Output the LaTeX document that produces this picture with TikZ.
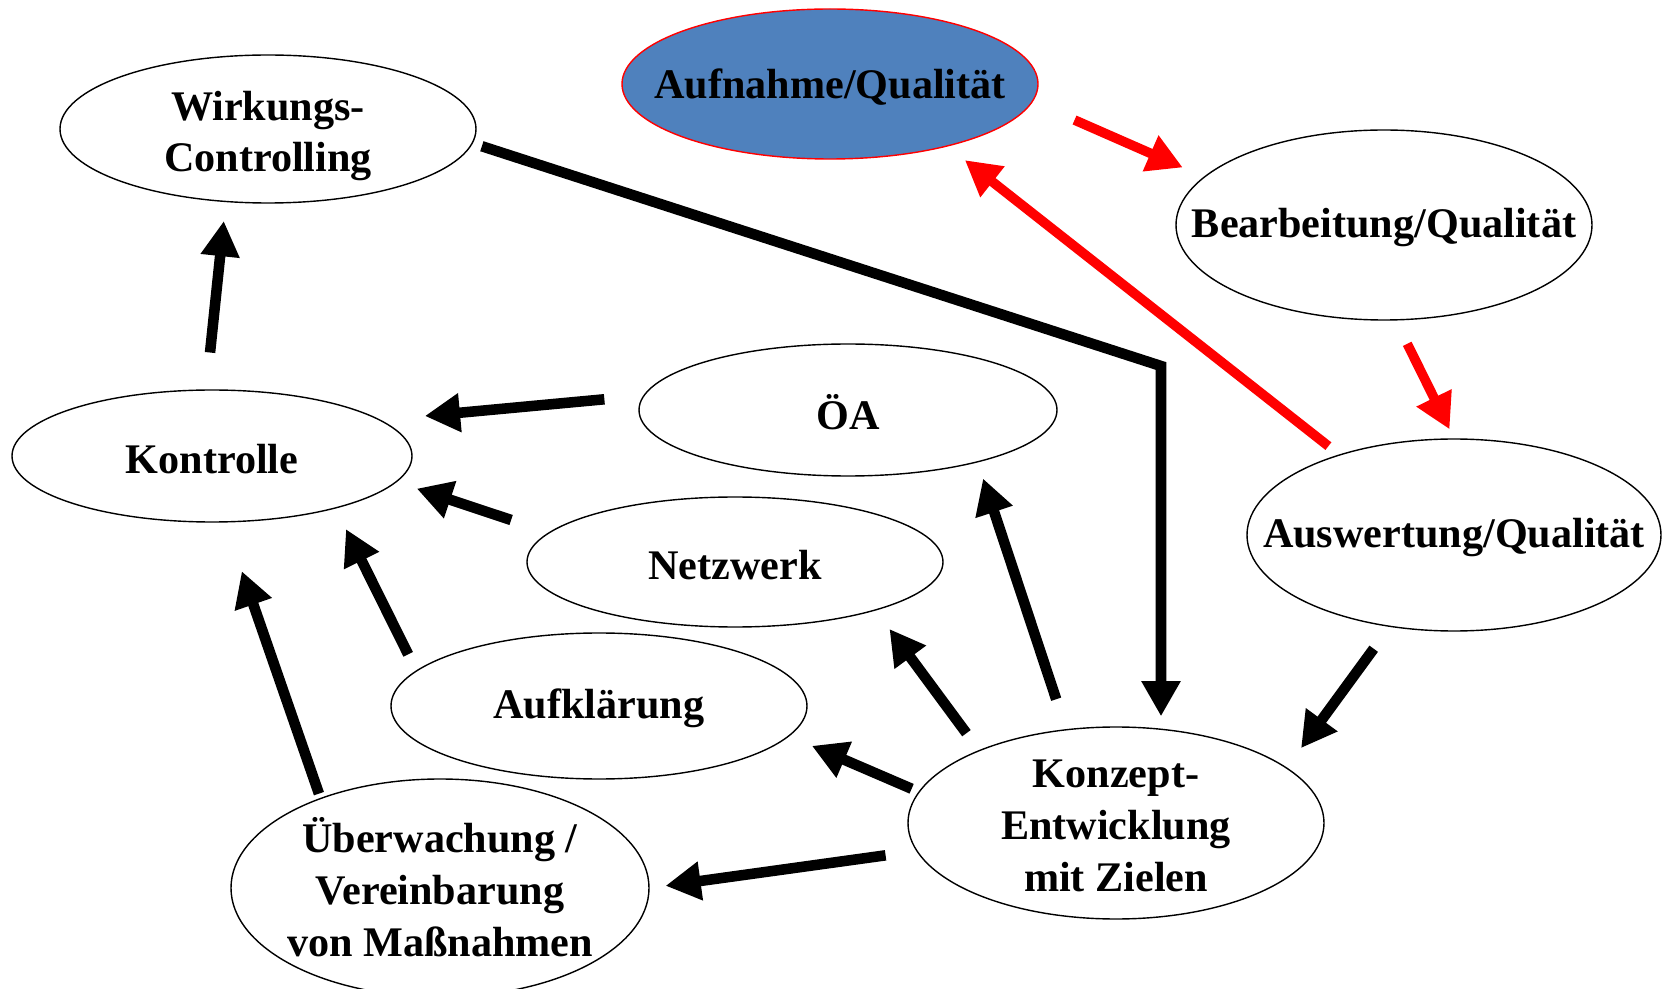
\documentclass[tikz,border=0pt]{standalone}
\usepackage{fontspec}
\setmainfont{Liberation Serif}
\usetikzlibrary{shapes.geometric,arrows.meta,calc}
\definecolor{officeblue}{RGB}{79,129,189}
\definecolor{signalred}{RGB}{255,0,0}
\tikzset{
    % ellipse nodes, the text sits in a centred label
    ovalbox/.style={
        ellipse, draw=black, line width=0.8pt, fill=white,
        inner sep=0pt
    },
    labeltext/.style={
        font=\bfseries\fontsize{24}{29.5}\selectfont, align=center,
        yshift=-1.5pt
    },
    arrow/.style={
        -{Triangle[length=20pt,width=21pt]}, line width=6pt, color=black
    },
    redarrow/.style={
        -{Triangle[length=20pt,width=21pt]}, line width=5.5pt, color=signalred
    }
}

\begin{document}
\begin{tikzpicture}

\useasboundingbox (0,0) rectangle (33.24,19.76);

% Quality cycle (top right)
\node[ovalbox, fill=officeblue, draw=signalred, minimum width=8.32cm, minimum height=3cm,
    label={[labeltext]center:Aufnahme/Qualität}] (aufnahme) at (16.60,18.08) {};
\node[ovalbox, minimum width=8.32cm, minimum height=3.8cm,
    label={[labeltext]center:Bearbeitung/Qualität}] (bearbeitung) at (27.68,15.26) {};
\node[ovalbox, minimum width=8.28cm, minimum height=3.84cm,
    label={[labeltext]center:Auswertung/Qualität}] (auswertung) at (29.08,9.06) {};

% Concept and measures
\node[ovalbox, minimum width=8.32cm, minimum height=3.84cm,
    label={[labeltext]center:{Konzept-\\Entwicklung\\mit Zielen}}] (konzept) at (22.32,3.30) {};
\node[ovalbox, minimum width=8.36cm, minimum height=2.64cm,
    label={[labeltext]center:ÖA}] (oea) at (16.96,11.56) {};
\node[ovalbox, minimum width=8.32cm, minimum height=2.6cm,
    label={[labeltext]center:Netzwerk}] (netzwerk) at (14.70,8.52) {};
\node[ovalbox, minimum width=8.32cm, minimum height=2.92cm,
    label={[labeltext]center:Aufklärung}] (aufklaerung) at (11.98,5.64) {};
\node[ovalbox, minimum width=8.36cm, minimum height=4.36cm,
    label={[labeltext, yshift=2pt]center:{Überwachung /\\Vereinbarung\\von Maßnahmen}}] (ueberwachung) at (8.80,2.00) {};

% Control (left)
\node[ovalbox, minimum width=8cm, minimum height=2.64cm,
    label={[labeltext]center:Kontrolle}] (kontrolle) at (4.24,10.64) {};
\node[ovalbox, minimum width=8.32cm, minimum height=2.96cm,
    label={[labeltext, yshift=-2.5pt]center:{Wirkungs-\\Controlling}}] (wirkung) at (5.36,17.18) {};

\coordinate (knick) at (23.22,12.44);

% Red arrows
\draw[redarrow, shorten <=0.91cm, shorten >=0.46cm] (aufnahme.355.1) -- (bearbeitung.165.3);
\draw[redarrow, shorten <=0.52cm, shorten >=0.2cm] (bearbeitung.277.4) -- (auswertung.90.8);
\draw[redarrow, shorten <=0.27cm, shorten >=0.44cm] (auswertung.145.2) -- (aufnahme.332.6);

% Black arrows
\draw[arrow, shorten <=0.19cm, shorten >=0.2cm] (wirkung.356.6) -- (knick) -- (knick |- konzept.north);
\draw[arrow, shorten <=0.54cm, shorten >=0.48cm] (auswertung.235.2) -- (konzept.18.5);
\draw[arrow, shorten <=0.63cm, shorten >=0.34cm] (konzept.118.3) -- (oea.338);
\draw[arrow, shorten <=0.42cm, shorten >=0.46cm] (konzept.152.8) -- (netzwerk.341.6);
\draw[arrow, shorten <=0.15cm, shorten >=0.49cm] (konzept.171.7) -- (aufklaerung.351.9);
\draw[arrow, shorten <=0.62cm, shorten >=0.32cm] (konzept.188.5) -- (ueberwachung.0.4);
\draw[arrow, shorten <=0.78cm, shorten >=0.88cm] (oea.176.7) -- (kontrolle.12.8);
\draw[arrow, shorten <=0.79cm, shorten >=0.42cm] (netzwerk.171) -- (kontrolle.352.2);
\draw[arrow, shorten <=0.36cm, shorten >=0.46cm] (aufklaerung.169.9) -- (kontrolle.337.4);
\draw[arrow, shorten <=0.09cm, shorten >=1.03cm] (ueberwachung.143) -- (kontrolle.281.2);
\draw[arrow, shorten <=0.74cm, shorten >=0.38cm] (kontrolle.95.4) -- (wirkung.240.5);

\end{tikzpicture}
\end{document}
